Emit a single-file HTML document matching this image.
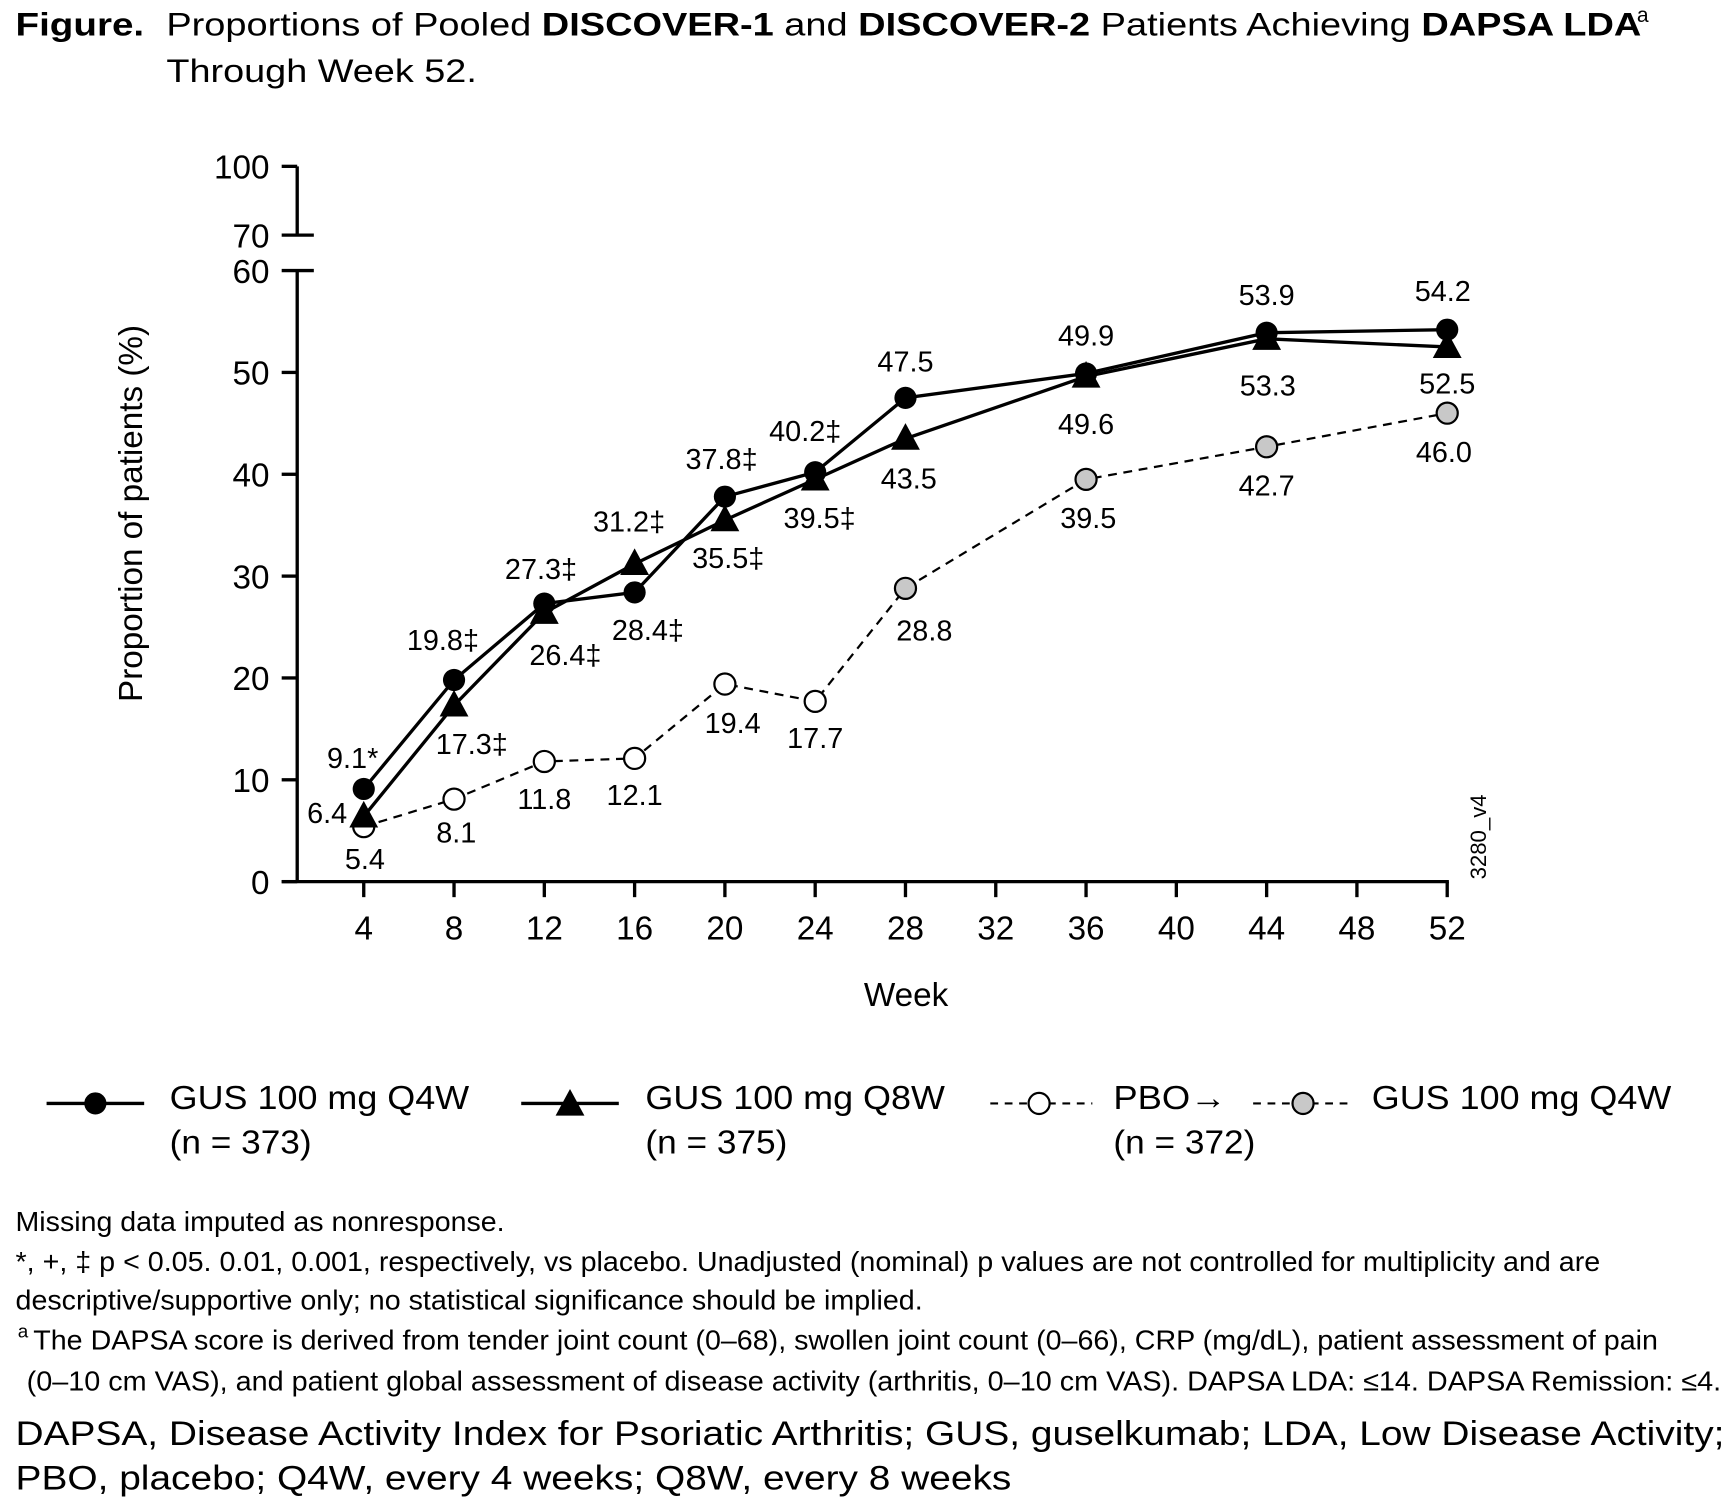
<!DOCTYPE html>
<html><head><meta charset="utf-8"><style>
html,body{margin:0;padding:0;background:#fff;}
svg{display:block;font-family:"Liberation Sans",Arial,sans-serif;}
</style></head><body>
<svg id="fig" width="1730" height="1500" viewBox="0 0 1560 1352.6" xmlns="http://www.w3.org/2000/svg">
<g font-size="29" fill="#000">
<text x="14" y="32" font-weight="bold" textLength="116" lengthAdjust="spacingAndGlyphs">Figure.</text>
<text x="150" y="32" textLength="1330" lengthAdjust="spacingAndGlyphs">Proportions of Pooled <tspan font-weight="bold">DISCOVER-1</tspan> and <tspan font-weight="bold">DISCOVER-2</tspan> Patients Achieving <tspan font-weight="bold">DAPSA LDA</tspan></text>
<text x="1476" y="20" font-size="19">a</text>
<text x="150" y="74" textLength="280" lengthAdjust="spacingAndGlyphs">Through Week 52.</text>
</g>
<g id="axes"></g>
<g id="series"></g>
<g id="legend" font-size="30" fill="#000">
<g>
<line x1="42" y1="995" x2="130" y2="995" stroke="#000" stroke-width="3"/>
<circle cx="86" cy="995" r="10" fill="#000"/>
<text x="153" y="1000" textLength="270" lengthAdjust="spacingAndGlyphs">GUS 100 mg Q4W</text>
<text x="153" y="1040" textLength="128" lengthAdjust="spacingAndGlyphs">(n = 373)</text>
</g>
<g>
<line x1="470" y1="995" x2="558" y2="995" stroke="#000" stroke-width="3"/>
<polygon points="514,982 527,1006 501,1006" fill="#000"/>
<text x="582" y="1000" textLength="270" lengthAdjust="spacingAndGlyphs">GUS 100 mg Q8W</text>
<text x="582" y="1040" textLength="128" lengthAdjust="spacingAndGlyphs">(n = 375)</text>
</g>
<g>
<line x1="893" y1="995" x2="985" y2="995" stroke="#000" stroke-width="2" stroke-dasharray="7,6"/>
<circle cx="937" cy="995" r="9.5" fill="#fff" stroke="#000" stroke-width="2"/>
<text x="1004" y="1000" textLength="102" lengthAdjust="spacingAndGlyphs">PBO→</text>
<text x="1004" y="1040" textLength="128" lengthAdjust="spacingAndGlyphs">(n = 372)</text>
</g>
<g>
<line x1="1130" y1="995" x2="1218" y2="995" stroke="#000" stroke-width="2" stroke-dasharray="7,6"/>
<circle cx="1175" cy="995" r="9.5" fill="#c8c8c8" stroke="#000" stroke-width="2"/>
<text x="1237" y="1000" textLength="270" lengthAdjust="spacingAndGlyphs">GUS 100 mg Q4W</text>
</g>
</g>
<g font-size="25" fill="#000">
<text x="14" y="1110" textLength="441" lengthAdjust="spacingAndGlyphs">Missing data imputed as nonresponse.</text>
<text x="14" y="1146" textLength="1429" lengthAdjust="spacingAndGlyphs">*, +, ‡ p &lt; 0.05. 0.01, 0.001, respectively, vs placebo. Unadjusted (nominal) p values are not controlled for multiplicity and are</text>
<text x="14" y="1181" textLength="818" lengthAdjust="spacingAndGlyphs">descriptive/supportive only; no statistical significance should be implied.</text>
<text x="16" y="1206" font-size="17">a</text>
<text x="30" y="1217" textLength="1465" lengthAdjust="spacingAndGlyphs">The DAPSA score is derived from tender joint count (0–68), swollen joint count (0–66), CRP (mg/dL), patient assessment of pain</text>
<text x="24" y="1254" textLength="1528" lengthAdjust="spacingAndGlyphs">(0–10 cm VAS), and patient global assessment of disease activity (arthritis, 0–10 cm VAS). DAPSA LDA: ≤14. DAPSA Remission: ≤4.</text>
<text x="14" y="1303" font-size="31" textLength="1541" lengthAdjust="spacingAndGlyphs">DAPSA, Disease Activity Index for Psoriatic Arthritis; GUS, guselkumab; LDA, Low Disease Activity;</text>
<text x="14" y="1343" font-size="31" textLength="898" lengthAdjust="spacingAndGlyphs">PBO, placebo; Q4W, every 4 weeks; Q8W, every 8 weeks</text>
</g>
</svg>
<script>
const weeks = [4, 8, 12, 16, 20, 24, 28, 36, 44, 52];
const q4wValues = [9.1, 19.8, 27.3, 28.4, 37.8, 40.2, 47.5, 49.9, 53.9, 54.2];
const q4wMarks = ["*", "‡", "‡", "‡", "‡", "‡", "", "", "", ""];
const q8wValues = [6.4, 17.3, 26.4, 31.2, 35.5, 39.5, 43.5, 49.6, 53.3, 52.5];
const q8wMarks = ["", "‡", "‡", "‡", "‡", "‡", "", "", "", ""];
const pboWeeks = [4, 8, 12, 16, 20, 24, 28, 36, 44, 52];
const pboValues = [5.4, 8.1, 11.8, 12.1, 19.4, 17.7, 28.8, 39.5, 42.7, 46.0];
const pboCrossed = [false, false, false, false, false, false, true, true, true, true];
const xTicks = [4, 8, 12, 16, 20, 24, 28, 32, 36, 40, 44, 48, 52];
const yTicks = [0, 10, 20, 30, 40, 50, 60];
const yBreakTicks = [70, 100];

// label offsets (layout, not data)
const q4wDx = [-10, -10, -3, 12, -3, -9, 0, 0, 0, -4];
const q4wDy = [-28, -36, -31, 34, -34, -37, -33, -34, -34, -35];
const q8wDx = [-33, 16, 19, -5, 3, 4, 3, 0, 1, 0];
const q8wDy = [-3, 35, 38, -38, 34, 35, 36, 43, 42, 33];
const pboDx = [1, 2, 0, 0, 7, 0, 17, 2, 0, -3];
const pboDy = [29, 30, 34, 33, 35, 33, 38, 35, 35, 35];

const NS = "http://www.w3.org/2000/svg";
const x = w => 328 + (w - 4) * (1305 - 328) / 48;
const y = v => 795 - v * (795 - 244) / 60;
const yBreak = v => 212 - (v - 70) * (212 - 150) / 30;
function mk(tag, attrs, parent) {
  const el = document.createElementNS(NS, tag);
  for (const k in attrs) el.setAttribute(k, attrs[k]);
  parent.appendChild(el);
  return el;
}
const axes = document.getElementById('axes');
const series = document.getElementById('series');

let el = mk('line', {x1: 268, y1: 244, x2: 268, y2: 795, stroke: '#000', 'stroke-width': 3}, axes);


el = mk('line', {x1: 268, y1: 150, x2: 268, y2: 212, stroke: '#000', 'stroke-width': 3}, axes);


yTicks.forEach(t => {
  const tk = mk('line', {x1: 254, y1: y(t), x2: t === 60 ? 283 : 268, y2: y(t), stroke: '#000', 'stroke-width': 3}, axes);
  
  
  const lb = mk('text', {x: 243, y: y(t) + 11, 'text-anchor': 'end', 'font-size': 30}, axes);
  lb.textContent = t;
  
  
});
yBreakTicks.forEach(t => {
  const tk = mk('line', {x1: 254, y1: yBreak(t), x2: t === 70 ? 283 : 268, y2: yBreak(t), stroke: '#000', 'stroke-width': 3}, axes);
  
  
  const lb = mk('text', {x: 243, y: yBreak(t) + 11, 'text-anchor': 'end', 'font-size': 30}, axes);
  lb.textContent = t;
  
  
});
el = mk('line', {x1: 254, y1: 795, x2: 1306.5, y2: 795, stroke: '#000', 'stroke-width': 3}, axes);


xTicks.forEach(t => {
  const tk = mk('line', {x1: x(t), y1: 795, x2: x(t), y2: 809, stroke: '#000', 'stroke-width': 3}, axes);
  
  
  const lb = mk('text', {x: x(t), y: 847, 'text-anchor': 'middle', 'font-size': 30}, axes);
  lb.textContent = t;
  
  
});
el = mk('text', {x: 817, y: 907, 'text-anchor': 'middle', 'font-size': 30}, axes);
el.textContent = 'Week';


el = mk('text', {x: 0, y: 0, 'text-anchor': 'middle', 'font-size': 30, transform: 'translate(128,463) rotate(-90)'}, axes);
el.textContent = 'Proportion of patients (%)';


el = mk('text', {x: 0, y: 0, 'text-anchor': 'start', 'font-size': 20, transform: 'translate(1340,793) rotate(-90)'}, axes);
el.textContent = '3280_v4';



el = mk('polyline', {points: pboWeeks.map((w, i) => x(w) + ',' + y(pboValues[i])).join(' '), fill: 'none', stroke: '#000', 'stroke-width': 2, 'stroke-dasharray': '8,6'}, series);


el = mk('polyline', {points: weeks.map((w, i) => x(w) + ',' + y(q8wValues[i])).join(' '), fill: 'none', stroke: '#000', 'stroke-width': 3}, series);


el = mk('polyline', {points: weeks.map((w, i) => x(w) + ',' + y(q4wValues[i])).join(' '), fill: 'none', stroke: '#000', 'stroke-width': 3}, series);



pboWeeks.forEach((w, i) => {
  const c = mk('circle', {cx: x(w), cy: y(pboValues[i]), r: 9.5, fill: pboCrossed[i] ? '#c8c8c8' : '#fff', stroke: '#000', 'stroke-width': 2}, series);
  
  
  const t = mk('text', {x: x(w) + pboDx[i], y: y(pboValues[i]) + pboDy[i] + 9, 'text-anchor': 'middle', 'font-size': 26}, series);
  t.textContent = pboValues[i].toFixed(1);
  
  
});
weeks.forEach((w, i) => {
  const cx = x(w), cy = y(q8wValues[i]);
  const p = mk('polygon', {points: `${cx},${cy - 14} ${cx + 13},${cy + 10} ${cx - 13},${cy + 10}`, fill: '#000'}, series);
  
  
  const t = mk('text', {x: cx + q8wDx[i], y: cy + q8wDy[i] + 9, 'text-anchor': 'middle', 'font-size': 26}, series);
  t.textContent = q8wValues[i].toFixed(1) + q8wMarks[i];
  
  
});
weeks.forEach((w, i) => {
  const c = mk('circle', {cx: x(w), cy: y(q4wValues[i]), r: 10, fill: '#000'}, series);
  
  
  const t = mk('text', {x: x(w) + q4wDx[i], y: y(q4wValues[i]) + q4wDy[i] + 9, 'text-anchor': 'middle', 'font-size': 26}, series);
  t.textContent = q4wValues[i].toFixed(1) + q4wMarks[i];
  
  
});
</script>
</body></html>
